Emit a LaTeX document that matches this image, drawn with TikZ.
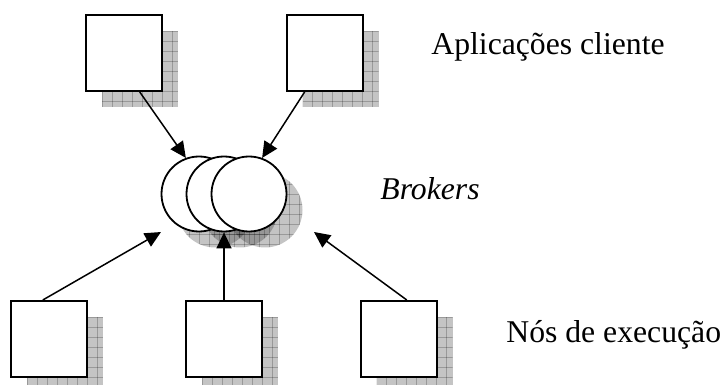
\documentclass[tikz,border=0pt]{standalone}
\usepackage{fontspec}
\setmainfont{Liberation Serif}
\usetikzlibrary{arrows.meta,positioning,calc}

\tikzset{
  caixa/.style={draw, line width=1pt, fill=white, minimum size=38pt, inner sep=0pt},
  broker/.style={draw, circle, line width=0.9pt, fill=white, minimum size=37.5pt, inner sep=0pt},
  sombra/.style={fill=black, fill opacity=0.23},
  grade/.style={draw=black, draw opacity=0.22, line width=0.4pt},
  seta/.style={-{Triangle[length=8pt,width=7.5pt]}, line width=0.75pt},
  rotulo/.style={inner sep=0pt, anchor=base west, font=\fontsize{15.85}{19}\selectfont}
}

% grid lines of a shadow, from (a,a) to (b,b)
\newcommand{\gradesombra}[2]{%
  \foreach \k in {#1,\the\numexpr#1+10\relax,...,#2} {
    \draw[grade] (\k,#1) -- (\k,#2);
    \draw[grade] (#1,\k) -- (#2,\k);
  }}

% shadow of a box, given its centre
\newcommand{\sombracaixa}[1]{%
  \begin{scope}[shift={(#1)}]
    \begin{scope}[shift={(-22,-22)}]
      \fill[sombra] (0,0) rectangle (76,76);
      \clip (0,0) rectangle (76,76);
      \gradesombra{0}{76}
    \end{scope}
  \end{scope}}

% shadow of a broker, given its centre
\newcommand{\sombrabroker}[1]{%
  \begin{scope}[shift={(#1)}]
    \fill[sombra] (16,16) circle[radius=18.75pt];
    \begin{scope}
      \clip (16,16) circle[radius=18.75pt];
      \gradesombra{-30}{60}
    \end{scope}
  \end{scope}}

\begin{document}
\begin{tikzpicture}[x=0.5pt, y=-0.5pt]
  \useasboundingbox (0,0) rectangle (724,385);

  % shadows
  \foreach \p in {{124,53}, {324.5,53}, {49,339}, {224,339}, {398.5,339}} {
    \sombracaixa{\p}
  }
  \foreach \p in {{199,194}, {224,194}, {249,194}} {
    \sombrabroker{\p}
  }

  % client applications
  \node[caixa] (cli1) at (124,53) {};
  \node[caixa] (cli2) at (324.5,53) {};

  % brokers
  \node[broker] (brk1) at (199,194) {};
  \node[broker] (brk2) at (224,194) {};
  \node[broker] (brk3) at (249,194) {};

  % execution nodes
  \node[caixa] (exe1) at (49,339) {};
  \node[caixa] (exe2) at (224,339) {};
  \node[caixa] (exe3) at (398.5,339) {};

  \coordinate (alvo1) at (161,232);
  \coordinate (alvo3) at (314,232);

  % connections
  \draw[seta] (cli1.-68) -- (brk1.110);
  \draw[seta] (cli2.-117) -- (brk3.70);
  \draw[seta] (exe1.99) -- (alvo1);
  \draw[seta] (exe2.north) -- (brk2.south);
  \draw[seta] (exe3.78) -- (alvo3);

  % labels
  \node[rotulo] (aplic) at (431,55) {Aplicações cliente};
  \node[rotulo] (brokers) at (380,199) {\itshape Brokers};
  \node[rotulo] (nos) at (506,343) {Nós de execução};
\end{tikzpicture}
\end{document}
